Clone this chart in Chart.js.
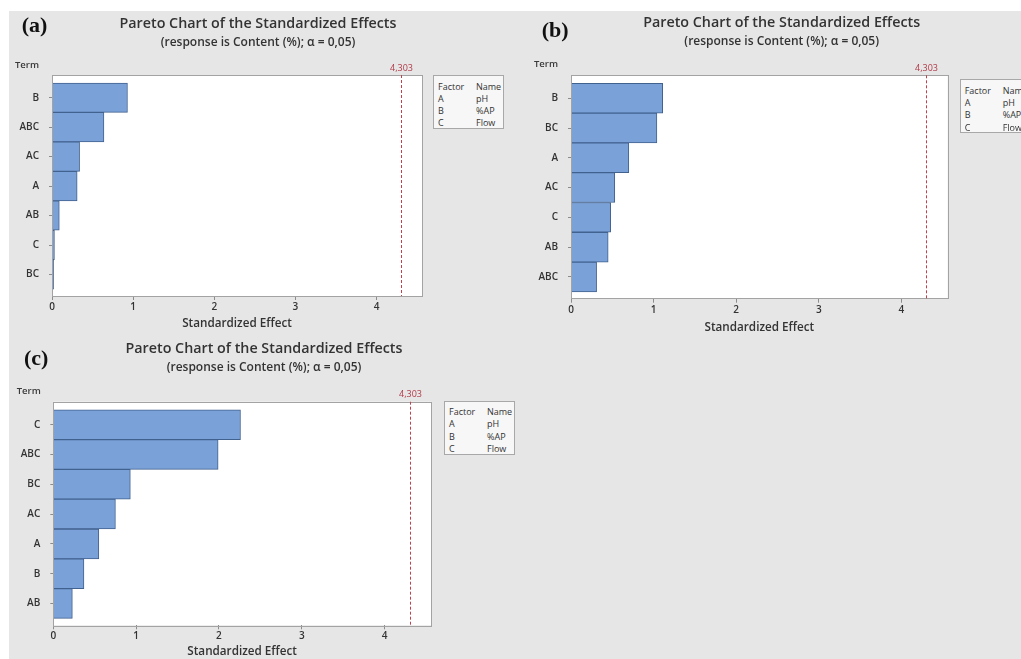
<!DOCTYPE html>
<html>
<head>
<meta charset="utf-8">
<script src="https://cdn.jsdelivr.net/npm/chart.js@4.4.1/dist/chart.umd.min.js"></script>
<style>
  html, body { margin: 0; padding: 0; background: #fff; }
  body { width: 1021px; height: 659px; position: relative; overflow: hidden; font-family: "Open Sans", sans-serif; }
  .bg { position: absolute; left: 9px; top: 11px; right: 0; bottom: 0; background: #e6e6e6; }
  .panel { position: absolute; }
  .panel canvas { position: absolute; left: 0; top: 0; }
  .tag { position: absolute; transform: translateY(-50%); font: bold 22px "Liberation Serif", serif; color: #111; line-height: 1; }
  .title, .sub { position: absolute; transform: translate(-50%, -50%); white-space: nowrap; color: #333; font-weight: 600; line-height: 1; }
  .title { font-size: 14.3px; }
  .sub { font-size: 12px; }
  .term { position: absolute; transform: translateY(-50%); font-size: 9.5px; font-weight: 600; color: #3a3a3a; line-height: 1; }
  .key { position: absolute; box-sizing: border-box; width: 71px; height: 54px; border: 1px solid #a8a8a8; background: #f7f7f7; font-size: 9px; color: #333; }
  .key div { position: absolute; line-height: 1; transform: translateY(-50%); white-space: nowrap; }
</style>
</head>
<body>
<div class="bg"></div>
<script>
// Pareto charts of standardized effects, three runs (a), (b), (c).
const termsA = ["B", "ABC", "AC", "A", "AB", "C", "BC"];
const effectsA = [0.93, 0.64, 0.34, 0.31, 0.09, 0.03, 0.02];
const termsB = ["B", "BC", "A", "AC", "C", "AB", "ABC"];
const effectsB = [1.11, 1.04, 0.70, 0.53, 0.48, 0.45, 0.31];
const termsC = ["C", "ABC", "BC", "AC", "A", "B", "AB"];
const effectsC = [2.26, 1.99, 0.93, 0.75, 0.55, 0.37, 0.23];
const xTicks = [0, 1, 2, 3, 4];
const critical = 4.303;
const criticalLabel = "4,303";
const factors = ["A", "B", "C"];
const factorNames = ["pH", "%AP", "Flow"];

const TITLE = "Pareto Chart of the Standardized Effects";
const SUBTITLE = "(response is Content (%); \u03b1 = 0,05)";
const FONT = "Open Sans";

// layout per panel, in page px; plot box is pinned via padding + fixed axis sizes
const panels = [
  { tag: "(a)", terms: termsA, effects: effectsA, left: 9, top: 11, w: 501, h: 320,
    padTop: 64, padRight: 88, yWidth: 43, xHeight: 35, titlePad: 0.8,
    tagX: 12.7, tagY: 14, tX: 249, tY: 12.3, sY: 30.7, termX: 6, termY: 54, keyDx: 11, keyDy: 0 },
  { tag: "(b)", terms: termsB, effects: effectsB, left: 519, top: 11, w: 502, h: 340,
    padTop: 64.3, padRight: 73.3, yWidth: 52, xHeight: 52.3, titlePad: 16.5,
    tagX: 22.7, tagY: 19, tX: 262.7, tY: 11, sY: 29.7, termX: 15, termY: 53.3, keyDx: 12, keyDy: 4 },
  { tag: "(c)", terms: termsC, effects: effectsC, left: 9, top: 331, w: 501, h: 328,
    padTop: 70.7, padRight: 79, yWidth: 44.3, xHeight: 33.7, titlePad: 0.3,
    tagX: 15, tagY: 27, tX: 255, tY: 17, sY: 35.7, termX: 7.7, termY: 60, keyDx: 13, keyDy: -1 },
];

const paretoFrame = {
  id: "paretoFrame",
  beforeDraw(chart) {
    const { ctx, chartArea: a } = chart;
    ctx.save();
    ctx.fillStyle = "#fff";
    ctx.fillRect(a.left, a.top, a.width, a.height);
    ctx.restore();
  },
  afterDatasetsDraw(chart) {
    const { ctx, chartArea: a, scales: { x } } = chart;
    const px = Math.round(x.getPixelForValue(critical)) + 0.5;
    ctx.save();
    ctx.strokeStyle = "#a3a3a3";
    ctx.lineWidth = 1;
    ctx.strokeRect(Math.round(a.left) + 0.5, Math.round(a.top) + 0.5, Math.round(a.width), Math.round(a.height));
    ctx.strokeStyle = "#c0404c";
    ctx.setLineDash([3, 2]);
    ctx.beginPath();
    ctx.moveTo(px, a.top);
    ctx.lineTo(px, a.bottom);
    ctx.stroke();
    ctx.setLineDash([]);
    ctx.fillStyle = "#b03a48";
    ctx.font = `9px "${FONT}"`;
    ctx.textAlign = "center";
    ctx.textBaseline = "middle";
    ctx.fillText(criticalLabel, px, a.top - 7);
    ctx.restore();
  },
};

function el(parent, cls, text, css) {
  const d = document.createElement("div");
  d.className = cls;
  if (text != null) d.textContent = text;
  Object.assign(d.style, css);
  parent.appendChild(d);
  return d;
}

panels.forEach((p) => {
  const wrap = el(document.body, "panel", null, {
    left: p.left + "px", top: p.top + "px", width: p.w + "px", height: p.h + "px",
  });
  const canvas = document.createElement("canvas");
  canvas.width = p.w;
  canvas.height = p.h;
  wrap.appendChild(canvas);

  el(wrap, "tag", p.tag, { left: p.tagX + "px", top: p.tagY + "px" });
  el(wrap, "title", TITLE, { left: p.tX + "px", top: p.tY + "px" });
  el(wrap, "sub", SUBTITLE, { left: p.tX + "px", top: p.sY + "px" });
  el(wrap, "term", "Term", { left: p.termX + "px", top: p.termY + "px" });

  const chart = new Chart(canvas, {
    type: "bar",
    data: {
      datasets: [{
        data: p.effects.map((v, i) => ({ x: v, y: i })),
        backgroundColor: "#7ba2d8",
        borderColor: "#41618f",
        borderWidth: 1,
        barPercentage: 1,
        categoryPercentage: 1,
      }],
    },
    options: {
      indexAxis: "y",
      responsive: false,
      devicePixelRatio: 1,
      animation: false,
      layout: { padding: { top: p.padTop, right: p.padRight, left: 0, bottom: 0 } },
      plugins: { legend: { display: false }, tooltip: { enabled: false } },
      scales: {
        x: {
          type: "linear", min: 0, max: 4.56,
          afterBuildTicks: (s) => { s.ticks = xTicks.map((v) => ({ value: v })); },
          afterFit: (s) => { s.height = p.xHeight; },
          grid: { drawOnChartArea: false, drawTicks: true, tickLength: 4, color: "#8c8c8c" },
          border: { display: false },
          ticks: { padding: 1, color: "#333", font: { family: FONT, size: 10, weight: "600" } },
          title: {
            display: true, text: "Standardized Effect", color: "#333",
            font: { family: FONT, size: 11.7, weight: "600" },
            padding: { top: 0, bottom: p.titlePad },
          },
        },
        y: {
          type: "linear", reverse: true, min: -0.77, max: 6.73, offset: false,
          afterBuildTicks: (s) => { s.ticks = p.terms.map((_, i) => ({ value: i })); },
          afterFit: (s) => { s.width = p.yWidth; },
          grid: { drawOnChartArea: false, drawTicks: true, tickLength: 3, offset: false, color: "#8c8c8c" },
          border: { display: false },
          ticks: { padding: 10, color: "#333", font: { family: FONT, size: 10, weight: "600" },
                   callback: (v) => p.terms[v] ?? "" },
        },
      },
    },
    plugins: [paretoFrame],
  });

  // factor key box, anchored to the plot's right edge
  const a = chart.chartArea;
  const key = el(wrap, "key", null, { left: (a.right + p.keyDx) + "px", top: (a.top + p.keyDy) + "px" });
  const rows = [["Factor", "Name"]].concat(factors.map((f, i) => [f, factorNames[i]]));
  rows.forEach((r, i) => {
    el(key, "", r[0], { left: "4px", top: (9.5 + i * 12.3) + "px" });
    el(key, "", r[1], { left: "42px", top: (9.5 + i * 12.3) + "px" });
  });
});
</script>
</body>
</html>
